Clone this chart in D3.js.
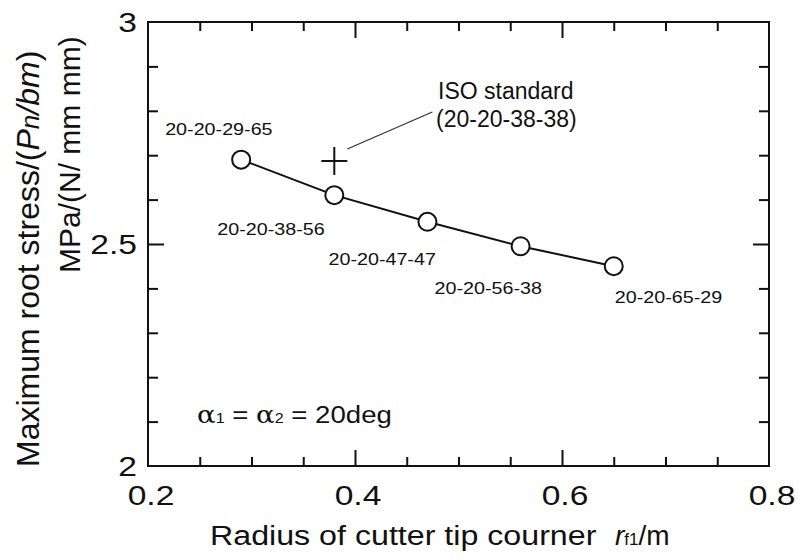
<!DOCTYPE html>
<html>
<head>
<meta charset="utf-8">
<script src="https://cdn.jsdelivr.net/npm/d3@7"></script>
<style>
  body { margin: 0; background: #fff; }
  svg { display: block; }
  text { font-family: "Liberation Sans", Arial, sans-serif; fill: #111; }
</style>
</head>
<body>
<svg class="chart" width="798" height="558"></svg>
<script>
// values
let radius = [0.29, 0.38, 0.47, 0.56, 0.65];
let stress = [2.69, 2.61, 2.55, 2.495, 2.45];
let combos = ['20-20-29-65', '20-20-38-56', '20-20-47-47', '20-20-56-38', '20-20-65-29'];
let isoRadius = [0.38];
let isoStress = [2.687];
let xTickLabels = [0.2, 0.4, 0.6, 0.8];
let yTickLabels = [2, 2.5, 3];

// where each combo label sits relative to its point (dx, dy)
let labelShift = [[-76, -25], [-117, 40], [-99, 43], [-86, 48], [1, 37]];

let margin = {left: 148, right: 29, top: 22, bottom: 92};
let W = 798, H = 558;

let x = d3.scaleLinear().domain([0.2, 0.8]).range([margin.left, W - margin.right]);
let y = d3.scaleLinear().domain([2, 3]).range([H - margin.bottom, margin.top]);

let svg = d3.select('svg.chart');

// helper - text in the original is a bit wider than Arial
function wideText(sel, px, py, str, size, sx, anchor){
  return sel.append('text')
    .attr('transform', `translate(${px},${py}) scale(${sx},1)`)
    .attr('text-anchor', anchor || 'start')
    .style('font-size', size + 'px')
    .text(str);
}

let xMinor = d3.range(0.25, 0.8, 0.05).map(d => +d.toFixed(2)).filter(d => Math.abs(d*5 - Math.round(d*5)) > 1e-6);
let xMajor = [0.4, 0.6];
let yMinor = d3.range(2.1, 3, 0.1).map(d => +d.toFixed(1)).filter(d => d != 2.5);
let yMajor = [2.5];

function tickAxis(axisFn, scale, vals, len, transform){
  svg.append('g')
    .attr('transform', transform)
    .call(axisFn(scale).tickValues(vals).tickSize(len).tickSizeOuter(0).tickFormat(''))
    .call(g => g.select('.domain').remove())
    .selectAll('line').style('stroke', '#111').style('stroke-width', '2px');
}

tickAxis(d3.axisBottom, x, xMinor, -9, `translate(0,${y(2)})`);
tickAxis(d3.axisBottom, x, xMajor, -16, `translate(0,${y(2)})`);
tickAxis(d3.axisTop, x, xMinor, -9, `translate(0,${y(3)})`);
tickAxis(d3.axisTop, x, xMajor, -16, `translate(0,${y(3)})`);
tickAxis(d3.axisLeft, y, yMinor, -10, `translate(${x(0.2)},0)`);
tickAxis(d3.axisLeft, y, yMajor, -16, `translate(${x(0.2)},0)`);
tickAxis(d3.axisRight, y, yMinor, -10, `translate(${x(0.8)},0)`);
tickAxis(d3.axisRight, y, yMajor, -16, `translate(${x(0.8)},0)`);

// frame
svg.append('rect')
  .attr('x', x(0.2)).attr('y', y(3))
  .attr('width', x(0.8) - x(0.2)).attr('height', y(2) - y(3))
  .style('fill', 'none').style('stroke', '#111').style('stroke-width', '2px');

// tick labels
xTickLabels.forEach(d => {
  wideText(svg, x(d) + 3, y(2) + 39, d.toFixed(1), 28, 1.2, 'middle');
});
yTickLabels.forEach(d => {
  wideText(svg, x(0.2) - 11, y(d) + 10, d3.format('~g')(d), 28, 1.2, 'end');
});

// axis titles
let xt = wideText(svg, 210, 545, 'Radius of cutter tip courner', 28, 1.15, 'start');
let xt2 = svg.append('text')
  .attr('x', 615).attr('y', 545)
  .style('font-size', '28px');
xt2.append('tspan').style('font-style', 'italic').text('r');
xt2.append('tspan').style('font-size', '17px').text('f1');
xt2.append('tspan').text('/m');

let yt1 = svg.append('text')
  .attr('transform', 'translate(39,467) rotate(-90)')
  .style('font-size', '32px');
yt1.append('tspan').text('Maximum root stress/(');
yt1.append('tspan').style('font-style', 'italic').text('P');
yt1.append('tspan').style('font-style', 'italic').style('font-size', '26px').text('n');
yt1.append('tspan').style('font-style', 'italic').text('/bm');
yt1.append('tspan').text(')');

svg.append('text')
  .attr('transform', 'translate(80,273) rotate(-90)')
  .style('font-size', '30px')
  .text('MPa/(N/ mm mm)');

// line + circles
let line = d3.line().x((d, i) => x(radius[i])).y((d, i) => y(stress[i]));
svg.append('path')
  .datum(stress)
  .attr('d', line)
  .style('fill', 'none').style('stroke', '#111').style('stroke-width', '2px');

svg.selectAll('circle.pt')
  .data(stress)
  .enter()
  .append('circle')
  .attr('class', 'pt')
  .attr('cx', (d, i) => x(radius[i]))
  .attr('cy', d => y(d))
  .attr('r', 9)
  .style('fill', '#fff').style('stroke', '#111').style('stroke-width', '2px');

combos.forEach((c, i) => {
  wideText(svg, x(radius[i]) + labelShift[i][0], y(stress[i]) + labelShift[i][1], c, 17, 1.16, 'start');
});

// ISO standard cross
let isoG = svg.selectAll('g.iso')
  .data(isoStress)
  .enter()
  .append('g')
  .attr('class', 'iso')
  .attr('transform', (d, i) => `translate(${x(isoRadius[i])},${y(d)})`);
isoG.append('line').attr('x1', -13).attr('x2', 13).attr('y1', 0).attr('y2', 0)
  .style('stroke', '#111').style('stroke-width', '2px');
isoG.append('line').attr('x1', 0).attr('x2', 0).attr('y1', -14).attr('y2', 14)
  .style('stroke', '#111').style('stroke-width', '2px');

svg.append('line')
  .attr('x1', x(isoRadius[0]) + 13).attr('y1', y(isoStress[0]) - 12)
  .attr('x2', x(isoRadius[0]) + 98).attr('y2', y(isoStress[0]) - 49)
  .style('stroke', '#333').style('stroke-width', '1.3px');

svg.append('text').attr('x', 438).attr('y', 99).style('font-size', '23px').text('ISO standard');
svg.append('text').attr('x', 436).attr('y', 127).style('font-size', '23px').text('(20-20-38-38)');

// alpha note
let note = svg.append('text')
  .attr('transform', 'translate(197,423) scale(1.15,1)')
  .style('font-size', '24px');
note.append('tspan').style('font-family', 'DejaVu Serif').text('α');
note.append('tspan').style('font-size', '14px').text('1');
note.append('tspan').text(' = ');
note.append('tspan').style('font-family', 'DejaVu Serif').text('α');
note.append('tspan').style('font-size', '14px').text('2');
note.append('tspan').text(' = 20deg');
</script>
</body>
</html>
